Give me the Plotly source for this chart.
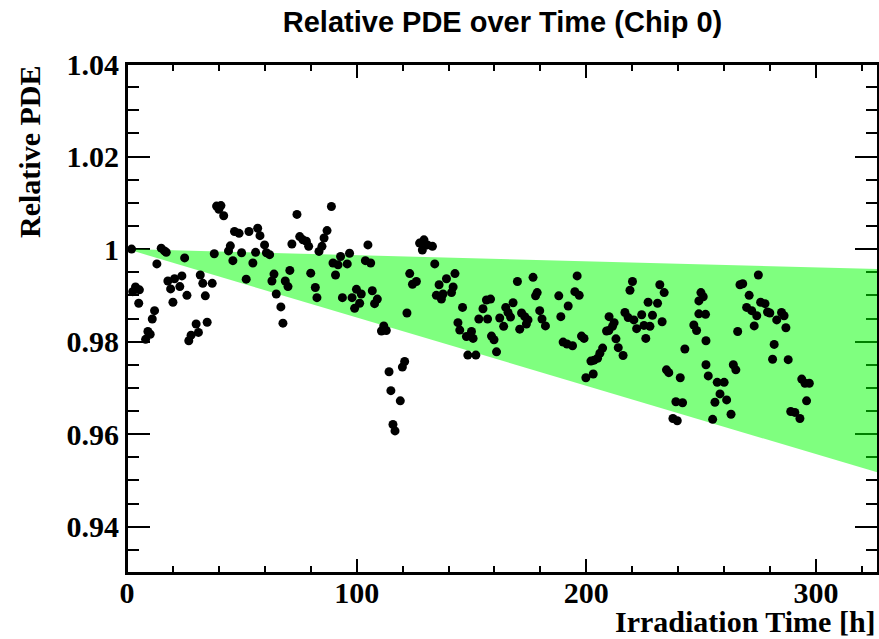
import plotly.graph_objects as go

# Irradiation time [h] of each measurement
time_h = [
    2.0, 2.5, 3.7, 5.4, 5.1, 8.1, 9.1, 10.1, 11.0, 12.0,
    13.0, 14.9, 16.3, 17.1, 17.8, 19.0, 20.0, 20.7, 23.0, 23.9,
    25.1, 26.1, 26.9, 27.9, 30.1, 31.1, 31.9, 33.0, 34.1, 34.9,
    37.1, 38.0, 39.0, 40.9, 40.0, 42.1, 44.2, 45.0, 46.1, 46.8,
    48.8, 49.9, 51.9, 53.1, 54.8, 56.0, 56.9, 57.9, 59.9, 60.7,
    62.1, 63.1, 64.0, 65.0, 67.0, 67.9, 68.9, 70.1, 70.9, 71.8,
    74.0, 75.2, 76.6, 78.1, 79.1, 80.0, 82.0, 82.7, 83.6, 84.9,
    85.8, 87.1, 89.0, 89.7, 90.8, 91.9, 93.0, 93.8, 95.9, 96.9,
    98.0, 99.1, 99.9, 101.3, 102.0, 103.8, 104.9, 106.1, 106.8, 107.8,
    109.0, 110.8, 111.8, 112.9, 114.1, 114.9, 115.8, 116.7, 119.0, 119.9,
    120.9, 121.9, 123.1, 124.3, 126.0, 127.4, 128.6, 129.3, 130.8, 133.0,
    134.0, 134.7, 135.9, 136.9, 137.6, 139.1, 141.3, 142.0, 142.8, 144.1,
    144.9, 146.1, 147.8, 150.0, 150.7, 148.4, 151.9, 153.2, 155.0, 156.5,
    157.0, 158.3, 158.7, 159.8, 160.9, 162.3, 164.0, 164.9, 165.9, 167.0,
    168.1, 170.0, 171.0, 171.8, 173.2, 173.9, 174.6, 176.8, 177.9, 178.6,
    179.7, 180.7, 182.2, 188.0, 188.9, 189.9, 191.6, 192.1, 194.0, 195.0,
    196.0, 196.9, 197.9, 199.0, 199.8, 202.0, 203.0, 203.4, 204.9, 205.9,
    207.1, 208.8, 209.8, 209.9, 211.4, 212.1, 212.9, 213.9, 216.0, 216.8,
    218.2, 219.0, 220.1, 220.7, 221.9, 224.1, 225.1, 225.9, 226.9, 227.7,
    228.8, 231.0, 232.0, 233.0, 233.9, 234.9, 235.9, 237.7, 239.0, 239.6,
    240.9, 241.9, 242.9, 246.8, 248.0, 249.0, 249.0, 249.9, 250.9, 251.9,
    252.1, 252.1, 253.1, 255.0, 256.0, 257.0, 258.2, 260.0, 261.1, 263.0,
    264.0, 265.1, 265.9, 266.9, 268.1, 269.8, 270.9, 272.0, 273.1, 274.2,
    274.9, 275.9, 277.8, 278.9, 279.9, 281.1, 281.8, 282.9, 285.0, 286.1,
    286.9, 287.9, 289.0, 290.8, 293.0, 293.8, 295.2, 295.9, 297.1,
]

# Relative PDE of each measurement
rel_pde = [
    1.0000, 0.9908, 0.9918, 0.9912, 0.9883, 0.9805, 0.9822, 0.9816, 0.9849, 0.9867,
    0.9968, 1.0002, 0.9996, 0.9993, 0.9931, 0.9914, 0.9885, 0.9936, 0.9919, 0.9942,
    0.9981, 0.9900, 0.9802, 0.9814, 0.9838, 0.9820, 0.9944, 0.9926, 0.9899, 0.9842,
    0.9926, 0.9990, 1.0093, 1.0094, 1.0086, 1.0072, 0.9996, 1.0007, 0.9975, 1.0038,
    1.0034, 0.9992, 0.9935, 1.0038, 0.9970, 0.9993, 1.0045, 1.0029, 1.0009, 0.9992,
    0.9988, 0.9931, 0.9946, 0.9903, 0.9875, 0.9840, 0.9931, 0.9919, 0.9954, 1.0011,
    1.0075, 1.0027, 1.0020, 1.0017, 1.0006, 0.9948, 0.9917, 0.9895, 0.9995, 1.0006,
    1.0024, 1.0040, 1.0092, 0.9970, 0.9944, 0.9966, 0.9984, 0.9895, 0.9968, 0.9991,
    0.9895, 0.9872, 0.9913, 0.9883, 0.9903, 0.9975, 1.0009, 0.9970, 0.9910, 0.9882,
    0.9892, 0.9823, 0.9834, 0.9824, 0.9735, 0.9694, 0.9621, 0.9607, 0.9672, 0.9745,
    0.9757, 0.9862, 0.9947, 0.9924, 0.9930, 1.0013, 0.9998, 1.0020, 1.0009, 1.0006,
    0.9968, 0.9900, 0.9923, 0.9892, 0.9903, 0.9936, 0.9906, 0.9918, 0.9947, 0.9841,
    0.9825, 0.9874, 0.9811, 0.9822, 0.9807, 0.9771, 0.9771, 0.9849, 0.9871, 0.9890,
    0.9849, 0.9892, 0.9812, 0.9804, 0.9778, 0.9851, 0.9833, 0.9874, 0.9863, 0.9853,
    0.9884, 0.9930, 0.9827, 0.9862, 0.9854, 0.9838, 0.9847, 0.9939, 0.9899, 0.9906,
    0.9867, 0.9849, 0.9834, 0.9899, 0.9854, 0.9799, 0.9795, 0.9877, 0.9791, 0.9908,
    0.9942, 0.9900, 0.9812, 0.9807, 0.9722, 0.9758, 0.9730, 0.9760, 0.9764, 0.9775,
    0.9786, 0.9823, 0.9824, 0.9854, 0.9833, 0.9841, 0.9806, 0.9787, 0.9770, 0.9863,
    0.9852, 0.9911, 0.9930, 0.9847, 0.9828, 0.9858, 0.9835, 0.9807, 0.9885, 0.9833,
    0.9857, 0.9883, 0.9923, 0.9843, 0.9906, 0.9739, 0.9733, 0.9634, 0.9670, 0.9629,
    0.9722, 0.9668, 0.9784, 0.9836, 0.9824, 0.9888, 0.9860, 0.9906, 0.9897, 0.9859,
    0.9802, 0.9750, 0.9726, 0.9632, 0.9669, 0.9712, 0.9687, 0.9712, 0.9674, 0.9643,
    0.9750, 0.9739, 0.9822, 0.9923, 0.9925, 0.9874, 0.9900, 0.9867, 0.9834, 0.9856,
    0.9944, 0.9885, 0.9882, 0.9864, 0.9862, 0.9762, 0.9794, 0.9847, 0.9863, 0.9856,
    0.9830, 0.9761, 0.9649, 0.9647, 0.9634, 0.9719, 0.9710, 0.9672, 0.9710,
]

assert len(time_h) == len(rel_pde)

# Expected-degradation band (green)
band_time = [0, 327]
band_upper = [1.0, 0.9957]
band_lower = [1.0, 0.9517]

# Axis ticks
x_tickvals = [0, 100, 200, 300]
y_tickvals = [0.94, 0.96, 0.98, 1.0, 1.02, 1.04]
y_ticktext = ["0.94", "0.96", "0.98", "1", "1.02", "1.04"]

SERIF = "Liberation Serif, Times New Roman, serif"
SANS = "Liberation Sans, Arial, Helvetica, sans-serif"

fig = go.Figure()
fig.add_trace(go.Scatter(
    x=band_time, y=band_lower, mode="lines",
    line=dict(width=0, color="rgba(0,0,0,0)"),
    hoverinfo="skip", showlegend=False,
))
fig.add_trace(go.Scatter(
    x=band_time, y=band_upper, mode="lines",
    line=dict(width=0, color="rgba(0,0,0,0)"),
    fill="tonexty", fillcolor="rgba(0,255,0,0.5)",
    hoverinfo="skip", showlegend=False,
))
fig.add_trace(go.Scatter(
    x=time_h, y=rel_pde, mode="markers",
    marker=dict(color="black", size=9, line=dict(width=0)),
    showlegend=False,
))

fig.update_layout(
    template="none",
    width=879, height=639,
    margin=dict(l=127, r=1, t=64, b=66, autoexpand=False),
    paper_bgcolor="white", plot_bgcolor="white",
    title=dict(
        text="Relative PDE over Time (Chip 0)",
        font=dict(family=SANS, size=29, color="black", weight="bold"),
        x=0.5, xref="paper", xanchor="center",
        y=1 - 22 / 639, yref="container", yanchor="middle",
    ),
    xaxis=dict(
        range=[0, 327], tickmode="array", tickvals=x_tickvals,
        ticks="inside", ticklen=14, tickwidth=2, tickcolor="black",
        minor=dict(dtick=20, tick0=0, ticks="inside", ticklen=7,
                   tickwidth=2, tickcolor="black", showgrid=False),
        showline=True, linewidth=2, linecolor="black", mirror="allticks",
        showgrid=False, zeroline=False, layer="below traces", automargin=False,
        ticklabelstandoff=-8,
        tickfont=dict(family=SERIF, size=30, color="black", weight="bold"),
    ),
    yaxis=dict(
        range=[0.93, 1.04], tickmode="array", tickvals=y_tickvals,
        ticktext=y_ticktext,
        ticks="inside", ticklen=23, tickwidth=2, tickcolor="black",
        minor=dict(dtick=0.005, tick0=0.93, ticks="inside", ticklen=12,
                   tickwidth=2, tickcolor="black", showgrid=False),
        showline=True, linewidth=2, linecolor="black", mirror="allticks",
        showgrid=False, zeroline=False, layer="below traces", automargin=False,
        tickfont=dict(family=SERIF, size=30, color="black", weight="bold"),
    ),
    shapes=[dict(type="rect", xref="paper", yref="paper", x0=0, x1=1, y0=0, y1=1,
                 line=dict(color="black", width=2), layer="above")],
    annotations=[
        dict(text="Irradiation Time [h]", xref="paper", yref="paper",
             x=1, y=-(621 - 573) / 509, xanchor="right", yanchor="middle",
             showarrow=False,
             font=dict(family=SERIF, size=30, color="black", weight="bold")),
        dict(text="Relative PDE", xref="paper", yref="paper",
             x=(29 - 127) / 751, y=1, xanchor="center", yanchor="top",
             textangle=-90, showarrow=False,
             font=dict(family=SERIF, size=30, color="black", weight="bold")),
    ],
)

# remove the browser's default page margin so the figure sits at (0, 0)
fig.write_html(
    "out.html",
    config={"displayModeBar": False, "staticPlot": True},
    post_script="document.body.style.margin='0';",
)
